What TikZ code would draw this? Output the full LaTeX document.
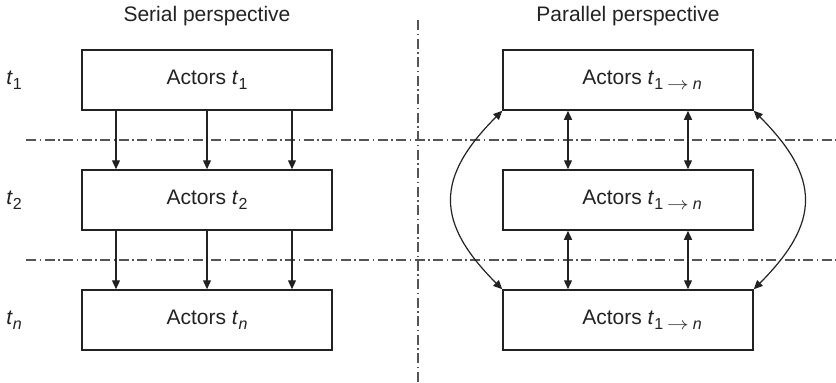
\documentclass[tikz,border=0pt]{standalone}
\usepackage{fontspec}
\setmainfont{Liberation Sans}
\usetikzlibrary{arrows.meta}
\definecolor{ink}{HTML}{222222}
\definecolor{rulegray}{HTML}{555555}
% lowered, smaller subscript in the text font
\newcommand\lowsub[1]{\raisebox{-5pt}{\fontsize{16}{16}\selectfont #1}}
% subscript arrow, a little stretched
\newcommand\subarrow{\scalebox{1.25}[1]{$\rightarrow$}}
\begin{document}
\begin{tikzpicture}[x=1pt,y=-1pt,
  actor/.style={draw=ink, line width=1.5pt, minimum width=250pt, minimum height=60pt,
    inner sep=0pt, font=\fontsize{21}{24}\selectfont, text=ink},
  title/.style={font=\fontsize{21}{24}\selectfont, text=ink},
  tlabel/.style={font=\fontsize{21}{24}\selectfont, text=ink},
  flow/.style={draw=ink, line width=1.2pt, -{Triangle[length=9pt,width=8pt]}},
  both/.style={draw=ink, line width=1.2pt,
    {Triangle[length=9pt,width=8pt]}-{Triangle[length=9pt,width=8pt]}},
  divider/.style={draw=rulegray, line width=1.3pt,
    dash pattern=on 10pt off 3.5pt on 1.5pt off 3.5pt}]
\useasboundingbox (0,0) rectangle (836,383);

% period dividers
\coordinate (h1w) at (26,140);  \coordinate (h1e) at (836,140);
\coordinate (h2w) at (26,260);  \coordinate (h2e) at (836,260);
\coordinate (vn) at (418,20);   \coordinate (vs) at (418,383);
\draw[divider] (h1w) -- (h1e);
\draw[divider] (h2w) -- (h2e);
\draw[divider] (vn) -- (vs);

% headings
\node[title] (serial) at (207,16) {Serial perspective};
\node[title] (parallel) at (628,16) {Parallel perspective};

% time labels
\node[tlabel] (lt1) at (14,80) {\textit{t}\lowsub{1}};
\node[tlabel] (lt2) at (14,200) {\textit{t}\lowsub{2}};
\node[tlabel] (ltn) at (14,320) {\textit{t}\lowsub{\textit{n}}};

% serial boxes
\node[actor] (s1) at (207,80) {Actors \textit{t}\lowsub{1}};
\node[actor] (s2) at (207,200) {Actors \textit{t}\lowsub{2}};
\node[actor] (s3) at (207,320) {Actors \textit{t}\lowsub{\textit{n}}};

% parallel boxes
\newcommand\spanlabel{\hspace*{28pt}Actors \textit{t}\lowsub{1\hspace{4pt}\subarrow\hspace{4pt}\textit{n}}}
\node[actor] (p1) at (628,80) {\spanlabel};
\node[actor] (p2) at (628,200) {\spanlabel};
\node[actor] (p3) at (628,320) {\spanlabel};

% serial flow
\foreach \dx in {-91,0,85} {
  \draw[flow] ([xshift=\dx pt]s1.south) -- ([xshift=\dx pt]s2.north);
  \draw[flow] ([xshift=\dx pt]s2.south) -- ([xshift=\dx pt]s3.north);
}

% parallel exchange
\foreach \dx in {-60,60} {
  \draw[both] ([xshift=\dx pt]p1.south) -- ([xshift=\dx pt]p2.north);
  \draw[both] ([xshift=\dx pt]p2.south) -- ([xshift=\dx pt]p3.north);
}
\draw[both] (p1.south west) .. controls +(-67,67) and +(-67,-67) .. (p3.north west);
\draw[both] (p1.south east) .. controls +(67,67) and +(67,-67) .. (p3.north east);
\end{tikzpicture}
\end{document}
